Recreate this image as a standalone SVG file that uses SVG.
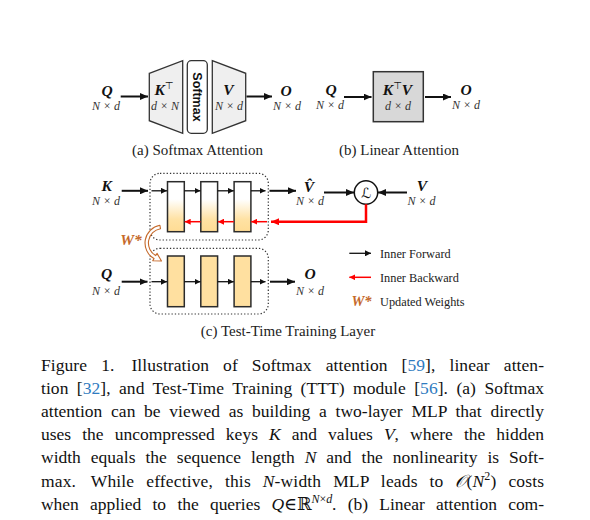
<svg xmlns="http://www.w3.org/2000/svg" width="590" height="520" viewBox="0 0 590 520">
<style>
.lbl{font-family:"Liberation Serif","DejaVu Serif",serif;font-weight:bold;font-style:italic;font-size:15.5px;fill:#111;text-anchor:middle}
.dim{font-family:"Liberation Serif","DejaVu Serif",serif;font-style:italic;font-size:12px;fill:#333;text-anchor:middle}
.sup{font-family:"DejaVu Sans",sans-serif;font-weight:normal;font-style:normal;font-size:10px}
.cap{font-family:"Liberation Serif","DejaVu Serif",serif;font-size:15px;fill:#222;text-anchor:middle}
.leg{font-family:"Liberation Serif","DejaVu Serif",serif;font-size:12.3px;fill:#222}
.para{font-family:"Liberation Serif","DejaVu Serif",serif;font-size:17.5px;fill:#111}
.m{font-style:italic}
.lnk{fill:#2f7bc0}
.a{stroke:#111;stroke-width:2;fill:none}
.ai{stroke:#111;stroke-width:1.3;fill:none}
.r{stroke:#f00;stroke-width:2.5;fill:none}
.ri{stroke:#f00;stroke-width:1.5;fill:none}
.trap{fill:#efefef;stroke:#333;stroke-width:1.3}
.dot{fill:none;stroke:#333;stroke-width:1.2;stroke-dasharray:1.3 2}
.blk{stroke:#2b2b2b;stroke-width:1.5}
.org{fill:#c5692a}
</style>
<defs>
<marker id="ah" markerUnits="userSpaceOnUse" markerWidth="9" markerHeight="7" refX="8" refY="3.5" orient="auto"><path d="M0,0 L8,3.5 L0,7 z" fill="#111"/></marker>
<marker id="ahs" markerUnits="userSpaceOnUse" markerWidth="7" markerHeight="6" refX="6" refY="3" orient="auto"><path d="M0,0 L6,3 L0,6 z" fill="#111"/></marker>
<marker id="rh" markerUnits="userSpaceOnUse" markerWidth="9" markerHeight="7" refX="8" refY="3.5" orient="auto"><path d="M0,0 L8,3.5 L0,7 z" fill="#f00"/></marker>
<marker id="rhs" markerUnits="userSpaceOnUse" markerWidth="7" markerHeight="6" refX="6" refY="3" orient="auto"><path d="M0,0 L6,3 L0,6 z" fill="#f00"/></marker>
<linearGradient id="gr" x1="0" y1="0" x2="0" y2="1">
<stop offset="0.35" stop-color="#ffffff"/>
<stop offset="0.75" stop-color="#ffe2a4"/>
<stop offset="1" stop-color="#ffdc94"/>
</linearGradient>
</defs>

<!-- (a) Softmax attention -->
<g id="a-q"><text class="lbl" x="107" y="95.5">Q</text><text class="dim" x="106" y="109.5">N × d</text></g>
<g id="a-kt"><polygon class="trap" points="149.3,73.3 182.7,60.7 182.7,133.3 149.3,120.7"/><text class="lbl" x="164" y="95">K<tspan class="sup" dy="-6">⊤</tspan></text><text class="dim" x="165" y="109.5">d × N</text></g>
<g id="a-softmax"><rect x="187.3" y="60.7" width="20" height="72.6" rx="4" fill="#fff" stroke="#333" stroke-width="1.3"/><text x="197.3" y="97" transform="rotate(90 197.3 97)" text-anchor="middle" dominant-baseline="central" font-family="Liberation Sans,Arial,sans-serif" font-weight="bold" font-size="12.5" fill="#111">Softmax</text></g>
<g id="a-v"><polygon class="trap" points="212.3,60.7 245.7,73.3 245.7,120.7 212.3,133.3"/><text class="lbl" x="228.5" y="95">V</text><text class="dim" x="229" y="109.5">N × d</text></g>
<g id="a-o"><text class="lbl" x="286" y="95.5">O</text><text class="dim" x="287" y="109.5">N × d</text></g>
<text class="cap" x="197.5" y="155">(a) Softmax Attention</text>

<!-- (b) Linear attention -->
<g id="b-q"><text class="lbl" x="331" y="95">Q</text><text class="dim" x="330" y="109">N × d</text></g>
<g id="b-ktv"><rect x="373.3" y="71.7" width="50" height="50" fill="#d8d8d8" stroke="#333" stroke-width="1.5"/><text class="lbl" x="397.5" y="95">K<tspan class="sup" dy="-6">⊤</tspan><tspan dy="6">V</tspan></text><text class="dim" x="398" y="109.5">d × d</text></g>
<g id="b-o"><text class="lbl" x="466" y="95">O</text><text class="dim" x="466" y="109">N × d</text></g>
<text class="cap" x="399" y="155">(b) Linear Attention</text>

<!-- (c) TTT -->
<g id="c-k"><text class="lbl" x="106.7" y="191">K</text><text class="dim" x="106" y="204.5">N × d</text></g>
<g id="c-train"><rect class="dot" x="150" y="173.3" width="118.3" height="66.7" rx="10"/>
<rect class="blk" x="167.5" y="181.7" width="16.8" height="50" fill="url(#gr)"/>
<rect class="blk" x="200.8" y="181.7" width="16.8" height="50" fill="url(#gr)"/>
<rect class="blk" x="234.1" y="181.7" width="16.8" height="50" fill="url(#gr)"/></g>
<g id="c-vhat"><text class="lbl" x="309" y="191.5">V̂</text><text class="dim" x="310" y="204.5">N × d</text></g>
<g id="c-loss"><circle cx="366" cy="192.5" r="11.7" fill="#fff" stroke="#111" stroke-width="1.5"/><text x="366" y="197.5" text-anchor="middle" font-family="DejaVu Serif,DejaVu Sans,serif" font-style="italic" font-size="14" fill="#111">ℒ</text></g>
<g id="c-v"><text class="lbl" x="422" y="191">V</text><text class="dim" x="421.5" y="204.5">N × d</text></g>
<g id="c-q"><text class="lbl" x="106.7" y="278.5">Q</text><text class="dim" x="106" y="295">N × d</text></g>
<g id="c-infer"><rect class="dot" x="150" y="248.3" width="118.3" height="65.7" rx="10"/>
<rect class="blk" x="167.5" y="256" width="16.8" height="50.7" fill="#ffe0a0"/>
<rect class="blk" x="200.8" y="256" width="16.8" height="50.7" fill="#ffe0a0"/>
<rect class="blk" x="234.1" y="256" width="16.8" height="50.7" fill="#ffe0a0"/></g>
<g id="c-o"><text class="lbl" x="310" y="279">O</text><text class="dim" x="310" y="295">N × d</text></g>
<g id="c-wstar"><text class="lbl org" x="131" y="245">W*</text>
<path d="M159.9,225.3 A18,18 0 0 0 154,258.6 L152.75,260.75 L161.5,261 L157,253.4 L155.75,255.6 A14.5,14.5 0 0 1 160.5,228.7 Z" fill="#fff" stroke="#c5692a" stroke-width="1.1" stroke-linejoin="round"/></g>

<g id="legend">
<path class="ai" d="M349.3,253.3 L371,253.3" marker-end="url(#ahs)"/>
<text class="leg" x="380" y="257.5">Inner Forward</text>
<path class="ri" d="M371,277.3 L349.3,277.3" marker-end="url(#rhs)"/>
<text class="leg" x="380" y="281.5">Inner Backward</text>
<text class="lbl org" x="361.5" y="306" style="font-size:14.5px">W*</text>
<text class="leg" x="380" y="306">Updated Weights</text>
</g>
<text class="cap" x="288" y="336">(c) Test-Time Training Layer</text>

<g id="connectors">
<path class="a" d="M120.7,96.5 L148,96.5" marker-end="url(#ah)"/>
<path class="a" d="M246.5,96.5 L272,96.5" marker-end="url(#ah)"/>
<path class="a" d="M344,97 L371.5,97" marker-end="url(#ah)"/>
<path class="a" d="M425,97 L451,97" marker-end="url(#ah)"/>
<path class="a" d="M121.7,190.8 L148,190.8" marker-end="url(#ah)"/>
<path class="ai" d="M151.5,190.8 L167,190.8" marker-end="url(#ahs)"/>
<path class="ai" d="M184.3,190.8 L200.5,190.8" marker-end="url(#ahs)"/>
<path class="ai" d="M217.6,190.8 L233.8,190.8" marker-end="url(#ahs)"/>
<path class="ai" d="M250.9,190.8 L265.5,190.8" marker-end="url(#ahs)"/>
<path class="a" d="M269.5,190.8 L296,190.8" marker-end="url(#ah)"/>
<path class="a" d="M324,192.5 L354,192.5" marker-end="url(#ah)"/>
<path class="a" d="M407,192.5 L378,192.5" marker-end="url(#ah)"/>
<path class="r" d="M366,204.2 L366,221.7 L271,221.7" marker-end="url(#rh)"/>
<path class="ri" d="M267,221.7 L251.2,221.7" marker-end="url(#rhs)"/>
<path class="ri" d="M233.8,221.7 L218,221.7" marker-end="url(#rhs)"/>
<path class="ri" d="M200.5,221.7 L184.7,221.7" marker-end="url(#rhs)"/>
<path class="a" d="M121.7,281.7 L147.5,281.7" marker-end="url(#ah)"/>
<path class="ai" d="M151.5,281.7 L167,281.7" marker-end="url(#ahs)"/>
<path class="ai" d="M184.3,281.7 L200.5,281.7" marker-end="url(#ahs)"/>
<path class="ai" d="M217.6,281.7 L233.8,281.7" marker-end="url(#ahs)"/>
<path class="ai" d="M250.9,281.7 L265.5,281.7" marker-end="url(#ahs)"/>
<path class="a" d="M270,281.7 L295,281.7" marker-end="url(#ah)"/>
</g>

<g id="caption">
<text class="para" x="41" y="371" word-spacing="9.6" textLength="503" lengthAdjust="spacing">Figure 1. <tspan dx="3">Illustration</tspan> of Softmax attention [<tspan class="lnk">59</tspan>], linear atten-</text>
<text class="para" x="41" y="394" word-spacing="4" textLength="503" lengthAdjust="spacing">tion [<tspan class="lnk">32</tspan>], and Test-Time Training (TTT) module [<tspan class="lnk">56</tspan>]. (a) Softmax</text>
<text class="para" x="41" y="417" word-spacing="4.3" textLength="503" lengthAdjust="spacing">attention can be viewed as building a two-layer MLP that directly</text>
<text class="para" x="41" y="440" word-spacing="6.7" textLength="503" lengthAdjust="spacing">uses the uncompressed keys <tspan class="m">K</tspan> and values <tspan class="m">V</tspan>, where the hidden</text>
<text class="para" x="41" y="463" word-spacing="5.6" textLength="503" lengthAdjust="spacing">width equals the sequence length <tspan class="m">N</tspan> and the nonlinearity is Soft-</text>
<text class="para" x="41" y="486.5" word-spacing="7.4" textLength="503" lengthAdjust="spacing">max. <tspan dx="3">While</tspan> effective, this <tspan class="m">N</tspan>-width MLP leads to <tspan font-family="DejaVu Serif,serif" font-style="italic">𝒪</tspan>(<tspan class="m">N</tspan><tspan dy="-7" font-size="12">2</tspan><tspan dy="7">)</tspan> costs</text>
<text class="para" x="41" y="509.5" word-spacing="7" textLength="503" lengthAdjust="spacing">when applied to the queries <tspan class="m">Q</tspan>∈ℝ<tspan dy="-7" font-size="12" class="m">N</tspan><tspan font-size="12">×</tspan><tspan font-size="12" class="m">d</tspan><tspan dy="7">. (b) Linear attention com-</tspan></text>
</g>
</svg>
